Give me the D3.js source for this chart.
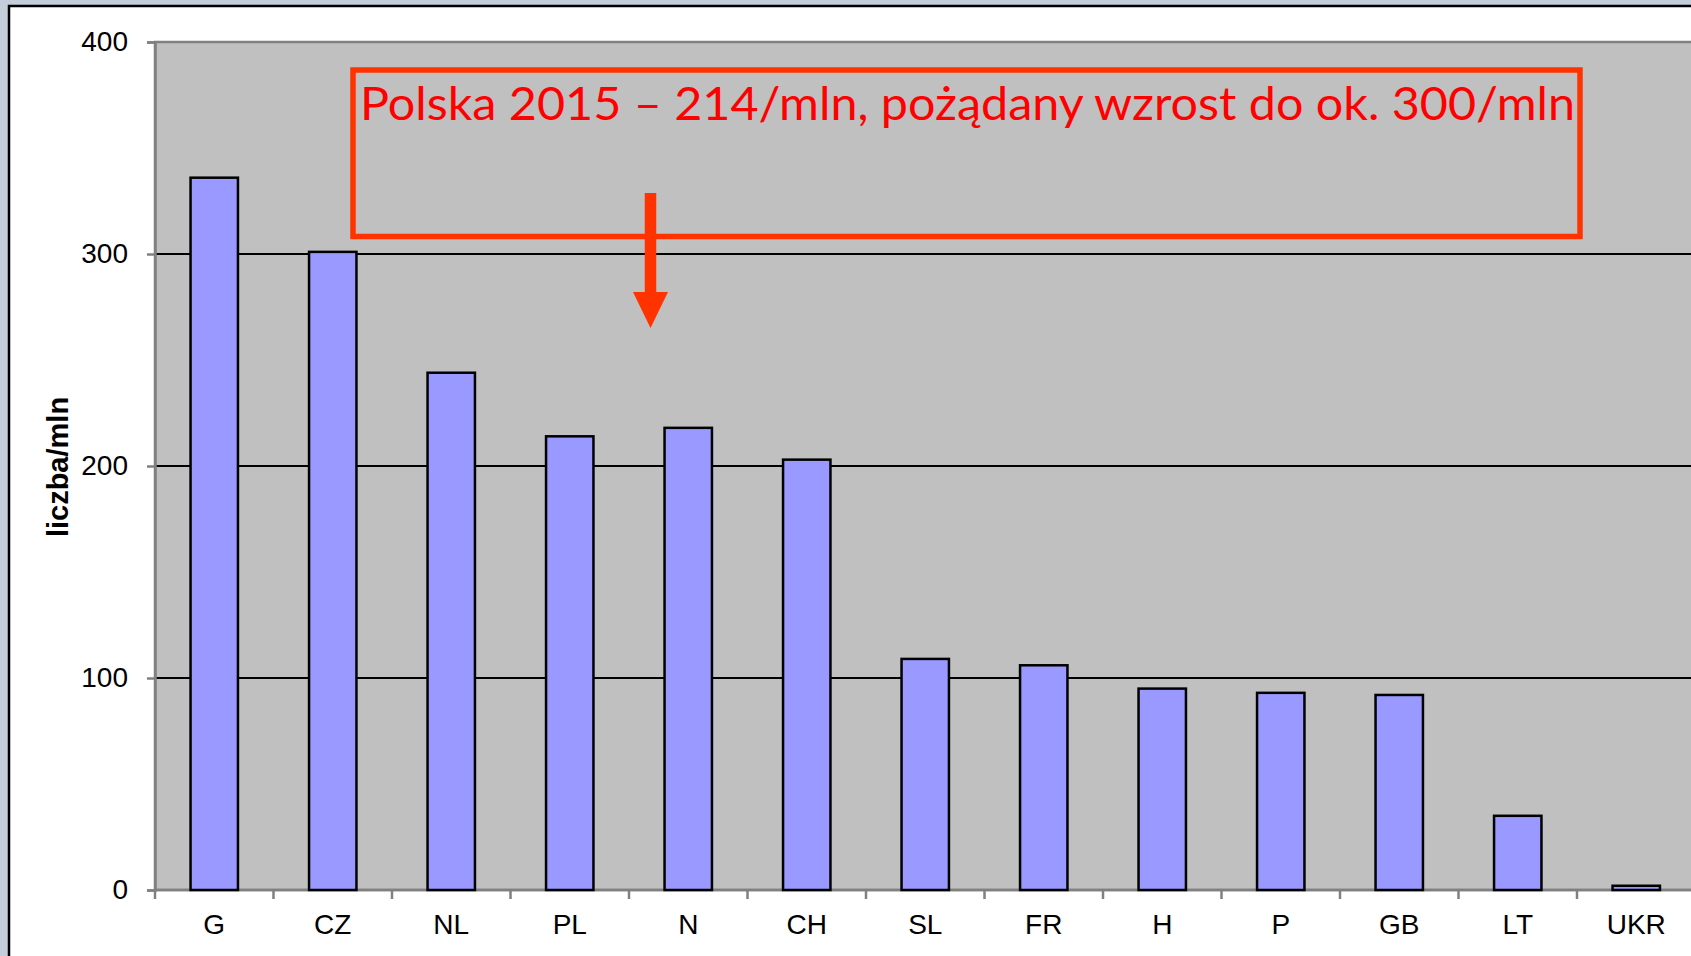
<!DOCTYPE html>
<html>
<head>
<meta charset="utf-8">
<script src="https://cdn.jsdelivr.net/npm/d3@7"></script>
<style>
	html, body { margin: 0; padding: 0; background: #c4cedb; }
	svg { display: block; }
</style>
</head>
<body>
<div class="chart"></div>
<script>
// data
const categories = ['G', 'CZ', 'NL', 'PL', 'N', 'CH', 'SL', 'FR', 'H', 'P', 'GB', 'LT', 'UKR'];
const values = [336, 301, 244, 214, 218, 203, 109, 106, 95, 93, 92, 35, 2];
const yTicks = [0, 100, 200, 300, 400];
const yTitle = 'liczba/mln';
const note = 'Polska 2015 – 214/mln, pożądany wzrost do ok. 300/mln';

// dimension stuff
const width = 1691;
const height = 956;
const plotLeft = 155;
const plotTop = 42;
const plotBottom = 890;
const step = 118.5;
const plotRight = plotLeft + step * categories.length;

const fontAxis = '"Liberation Sans", Arial, sans-serif';

// scales
const scaleX = d3.scaleBand()
	.domain(categories)
	.range([plotLeft, plotRight])
	.paddingInner(0.6)
	.paddingOuter(0.3);

const scaleY = d3.scaleLinear()
	.domain([0, 400])
	.range([plotBottom, plotTop]);

const $svg = d3.select('.chart').append('svg')
	.attr('width', width)
	.attr('height', height);

// window frame
$svg.append('rect')
	.attr('width', width).attr('height', height)
	.attr('fill', '#c4cedb');

$svg.append('rect')
	.attr('x', 9).attr('y', 6)
	.attr('width', width + 20).attr('height', height + 20)
	.attr('fill', '#fff')
	.attr('stroke', '#000')
	.attr('stroke-width', 2.5);

// plot area
$svg.append('rect')
	.attr('x', plotLeft).attr('y', plotTop)
	.attr('width', plotRight - plotLeft).attr('height', plotBottom - plotTop)
	.attr('fill', '#c0c0c0')
	.attr('stroke', '#808080')
	.attr('stroke-width', 2.5);

// gridlines
const $grid = $svg.append('g').attr('class', 'g-grid');
$grid.selectAll('line')
	.data(yTicks.filter(d => d > 0 && d < 400))
	.enter()
	.append('line')
	.attr('x1', plotLeft).attr('x2', plotRight)
	.attr('y1', d => scaleY(d)).attr('y2', d => scaleY(d))
	.attr('stroke', '#000')
	.attr('stroke-width', 2);

// y axis
const $yAxis = $svg.append('g')
	.attr('class', 'g-axis')
	.attr('transform', `translate(${plotLeft}, 0)`)
	.call(d3.axisLeft(scaleY).tickValues(yTicks).tickSize(8).tickPadding(19));

$yAxis.select('.domain').attr('stroke', '#808080').attr('stroke-width', 2.5);
$yAxis.selectAll('.tick line').attr('stroke', '#808080').attr('stroke-width', 2.5);
$yAxis.selectAll('.tick text')
	.attr('font-family', fontAxis)
	.attr('font-size', 28)
	.attr('fill', '#000');

// x axis, ticks sit on band edges
const $xAxis = $svg.append('g')
	.attr('class', 'g-axis')
	.attr('transform', `translate(0, ${plotBottom})`);

$xAxis.append('line')
	.attr('x1', plotLeft).attr('x2', plotRight)
	.attr('stroke', '#808080')
	.attr('stroke-width', 2.5);

$xAxis.selectAll('.x-tick')
	.data(categories)
	.enter()
	.append('line')
	.attr('class', 'x-tick')
	.attr('x1', d => scaleX(d) - scaleX.step() * 0.3)
	.attr('x2', d => scaleX(d) - scaleX.step() * 0.3)
	.attr('y1', 0).attr('y2', 9)
	.attr('stroke', '#808080')
	.attr('stroke-width', 2.5);

$xAxis.selectAll('.x-label')
	.data(categories)
	.enter()
	.append('text')
	.attr('class', 'x-label')
	.attr('x', d => scaleX(d) + scaleX.bandwidth() / 2)
	.attr('y', 44)
	.attr('text-anchor', 'middle')
	.attr('font-family', fontAxis)
	.attr('font-size', 28)
	.text(d => d);

// bars
const $vis = $svg.append('g').attr('class', 'g-vis');
$vis.selectAll('.bar')
	.data(categories.map((c, i) => ({ key: c, value: values[i] })))
	.enter()
	.append('rect')
	.attr('class', 'bar')
	.attr('x', d => scaleX(d.key))
	.attr('width', scaleX.bandwidth())
	.attr('y', d => scaleY(d.value))
	.attr('height', d => scaleY(0) - scaleY(d.value))
	.attr('fill', '#9999ff')
	.attr('stroke', '#000')
	.attr('stroke-width', 2.5);

// y title
$svg.append('text')
	.attr('transform', 'translate(68, 467) rotate(-90)')
	.attr('text-anchor', 'middle')
	.attr('font-family', fontAxis)
	.attr('font-weight', 'bold')
	.attr('font-size', 29)
	.text(yTitle);

// annotation box + arrow
const $note = $svg.append('g').attr('class', 'g-note');
$note.append('rect')
	.attr('x', 353).attr('y', 70)
	.attr('width', 1580 - 353).attr('height', 236.5 - 70)
	.attr('fill', 'none')
	.attr('stroke', '#ff3300')
	.attr('stroke-width', 5.5);

$note.append('text')
	.attr('x', 360).attr('y', 120)
	.attr('font-family', 'Lato, "Open Sans", sans-serif')
	.attr('font-size', 46)
	.attr('fill', '#ff0000')
	.attr('textLength', 1215)
	.attr('lengthAdjust', 'spacingAndGlyphs')
	.text(note);

$note.append('line')
	.attr('x1', 650.5).attr('x2', 650.5)
	.attr('y1', 193).attr('y2', 295)
	.attr('stroke', '#ff3300')
	.attr('stroke-width', 11.5);

$note.append('path')
	.attr('d', 'M633,292 L668,292 L650.5,328 Z')
	.attr('fill', '#ff3300');
</script>
</body>
</html>
